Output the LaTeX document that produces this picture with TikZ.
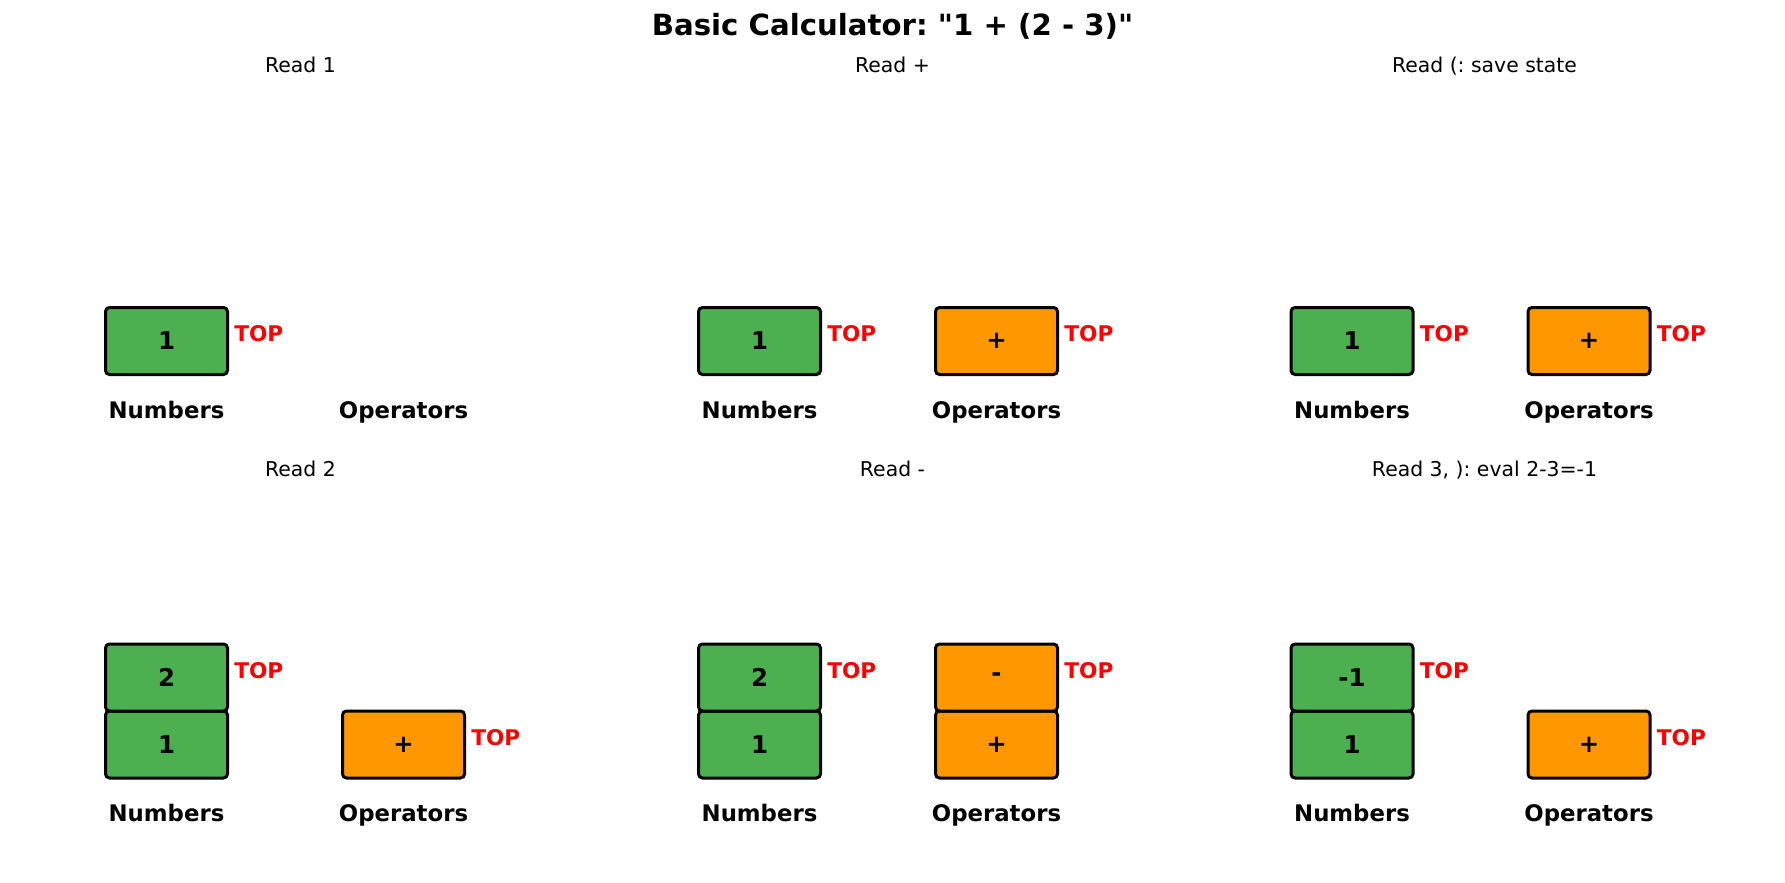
\documentclass[tikz,border=0pt]{standalone}
\usepackage{fontspec}
\setmainfont{DejaVu Sans}[Ligatures=TeXOff]
\frenchspacing
\definecolor{numgreen}{HTML}{4CAF50}
\definecolor{oporange}{HTML}{FF9800}
\definecolor{topred}{HTML}{FF0000}
\tikzset{
  stackbox/.style={draw=black, line width=1.5pt, rounded corners=2pt, minimum width=61pt, minimum height=33.5pt, inner sep=0pt, font=\fontsize{12.2}{14}\selectfont\bfseries},
  numbox/.style={stackbox, fill=numgreen},
  opbox/.style={stackbox, fill=oporange},
  toplabel/.style={anchor=west, text=topred, font=\fontsize{10.8}{13}\selectfont\bfseries, inner sep=0pt, xshift=2.5pt, yshift=3.5pt},
  stacklabel/.style={anchor=base, font=\fontsize{11.4}{14}\selectfont\bfseries, inner sep=0pt},
  paneltitle/.style={anchor=base, font=\fontsize{10.2}{12}\selectfont, inner sep=0pt},
  maintitle/.style={anchor=base, font=\fontsize{14.6}{17}\selectfont\bfseries, inner sep=0pt}
}
\begin{document}
\begin{tikzpicture}[x=0.5pt,y=-0.5pt]
\useasboundingbox (0,0) rectangle (1785,883);
\node[maintitle] (title) at (892.5,36) {Basic Calculator: "1 + (2 - 3)"};
% Row 1
\node[paneltitle] (t1) at (300.5,73) {Read 1};
\node[paneltitle] (t2) at (892.5,73) {Read +};
\node[paneltitle] (t3) at (1484.5,73) {Read (: save state};
% panel 1
\node[numbox] (n1a) at (166.5,341) {1};
\node[toplabel] (n1top) at (n1a.east) {TOP};
\node[stacklabel] (ln1) at (166.5,418) {Numbers};
\node[stacklabel] (lo1) at (403.5,418) {Operators};
% panel 2
\node[numbox] (n2a) at (759.5,341) {1};
\node[toplabel] (n2top) at (n2a.east) {TOP};
\node[opbox] (o2a) at (996.5,341) {+};
\node[toplabel] (o2top) at (o2a.east) {TOP};
\node[stacklabel] (ln2) at (759.5,418) {Numbers};
\node[stacklabel] (lo2) at (996.5,418) {Operators};
% panel 3
\node[numbox] (n3a) at (1352,341) {1};
\node[toplabel] (n3top) at (n3a.east) {TOP};
\node[opbox] (o3a) at (1589,341) {+};
\node[toplabel] (o3top) at (o3a.east) {TOP};
\node[stacklabel] (ln3) at (1352,418) {Numbers};
\node[stacklabel] (lo3) at (1589,418) {Operators};
% Row 2
\node[paneltitle] (t4) at (300.5,476) {Read 2};
\node[paneltitle] (t5) at (892.5,476) {Read -};
\node[paneltitle] (t6) at (1484.5,476) {Read 3, ): eval 2-3=-1};
% panel 4
\node[numbox] (n4a) at (166.5,744.5) {1};
\node[numbox] (n4b) at (166.5,677.5) {2};
\node[toplabel] (n4top) at (n4b.east) {TOP};
\node[opbox] (o4a) at (403.5,744.5) {+};
\node[toplabel] (o4top) at (o4a.east) {TOP};
\node[stacklabel] (ln4) at (166.5,821) {Numbers};
\node[stacklabel] (lo4) at (403.5,821) {Operators};
% panel 5
\node[numbox] (n5a) at (759.5,744.5) {1};
\node[numbox] (n5b) at (759.5,677.5) {2};
\node[toplabel] (n5top) at (n5b.east) {TOP};
\node[opbox] (o5a) at (996.5,744.5) {+};
\node[opbox] (o5b) at (996.5,677.5) {-};
\node[toplabel] (o5top) at (o5b.east) {TOP};
\node[stacklabel] (ln5) at (759.5,821) {Numbers};
\node[stacklabel] (lo5) at (996.5,821) {Operators};
% panel 6
\node[numbox] (n6a) at (1352,744.5) {1};
\node[numbox] (n6b) at (1352,677.5) {-1};
\node[toplabel] (n6top) at (n6b.east) {TOP};
\node[opbox] (o6a) at (1589,744.5) {+};
\node[toplabel] (o6top) at (o6a.east) {TOP};
\node[stacklabel] (ln6) at (1352,821) {Numbers};
\node[stacklabel] (lo6) at (1589,821) {Operators};
\end{tikzpicture}
\end{document}
